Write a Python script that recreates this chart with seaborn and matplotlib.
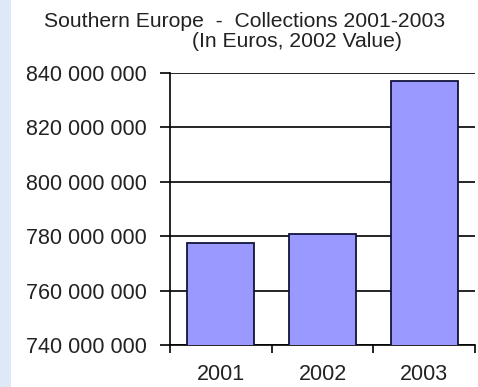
import matplotlib
matplotlib.use("Agg")
import matplotlib.pyplot as plt
import matplotlib.ticker as mticker
import seaborn as sns
import pandas as pd

years = ["2001", "2002", "2003"]
collections = [777500000, 780700000, 837200000]
y_ticks = [740000000, 760000000, 780000000, 800000000, 820000000, 840000000]

sns.set_theme(style="white")
plt.rcParams["font.family"] = ["Liberation Sans", "DejaVu Sans"]

df = pd.DataFrame({"year": years, "value": collections})

fig = plt.figure(figsize=(4.78, 3.87), dpi=100)
fig.patch.set_facecolor("white")
# light blue strip down the left edge
fig.patches.append(plt.Rectangle((0, 0), 11 / 478, 1, transform=fig.transFigure,
                                 facecolor="#dde9f6", edgecolor="none", zorder=0))

ax = fig.add_axes([170 / 478, 42 / 387, 305 / 478, 272 / 387])
sns.barplot(data=df, x="year", y="value", color="#9999ff", edgecolor="#14143c",
            linewidth=1.3, width=0.66, saturation=1, ax=ax, zorder=3)

ax.set_ylim(740000000, 840000000)
ax.set_xlim(-0.5, 2.5)
ax.set_yticks(y_ticks)
ax.yaxis.set_major_formatter(mticker.FuncFormatter(lambda v, p: f"{int(v):,}".replace(",", " ")))
ax.yaxis.grid(True, color="black", linewidth=1.2, zorder=0)
ax.set_axisbelow(True)

ax.set_xticks([0, 1, 2])
ax.set_xticks([-0.5, 0.5, 1.5, 2.5], minor=True)
ax.tick_params(axis="x", which="major", length=0, pad=14, labelsize=15.5, colors="#222222")
ax.tick_params(axis="x", which="minor", length=6, width=1.2, color="black", direction="out", bottom=True)
ax.tick_params(axis="y", length=7, width=1.2, color="black", direction="out", left=True,
               labelsize=15.5, labelcolor="#222222", pad=10)

ax.set_xlabel("")
ax.set_ylabel("")
for side in ["top", "right"]:
    ax.spines[side].set_visible(False)
for side in ["left", "bottom"]:
    ax.spines[side].set_color("black")
    ax.spines[side].set_linewidth(1.2)

fig.text(245 / 478, 1 - 27 / 387, "Southern Europe  -  Collections 2001-2003",
         ha="center", va="baseline", fontsize=15.2, color="#222222")
fig.text(297 / 478, 1 - 47 / 387, "(In Euros, 2002 Value)",
         ha="center", va="baseline", fontsize=15.2, color="#222222")

fig.savefig("out.png", dpi=100)
